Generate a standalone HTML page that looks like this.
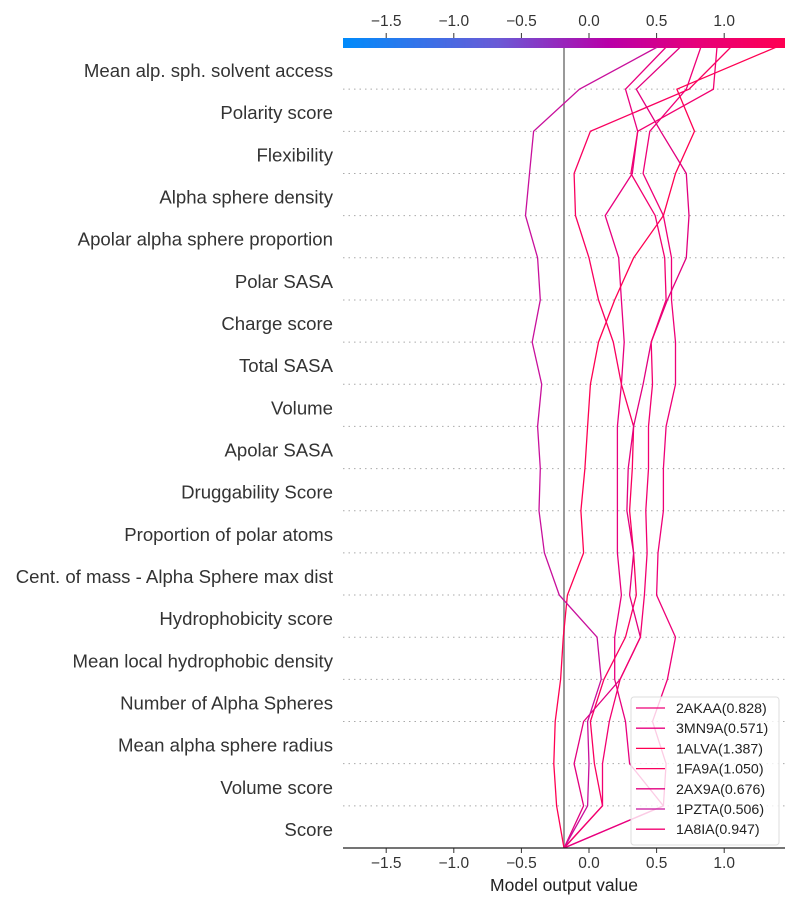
<!DOCTYPE html>
<html><head><meta charset="utf-8"><style>
body{margin:0;background:#fff;width:800px;height:910px;overflow:hidden;font-family:"Liberation Sans","Noto Sans CJK JP",sans-serif}
svg text{font-family:"Liberation Sans","Noto Sans CJK JP",sans-serif}
</style></head><body>
<svg id="chart" width="800" height="910" xmlns="http://www.w3.org/2000/svg">
<defs><linearGradient id="cb" x1="0" x2="1" y1="0" y2="0">
<stop offset="0" stop-color="#008bfb"/><stop offset="0.35" stop-color="#6a5ad6"/><stop offset="0.6" stop-color="#b800a8"/><stop offset="0.8" stop-color="#e6007a"/><stop offset="1" stop-color="#ff0052"/></linearGradient></defs>
<g id="grid"></g><g id="labels"></g>
<rect x="343" y="38" width="442" height="10" fill="url(#cb)"/>
<g id="topticks"></g><g id="bottomticks"></g>
<line x1="564" y1="48" x2="564" y2="848" stroke="#999" stroke-width="2"/>
<g id="lines"></g>
<line x1="343" y1="848" x2="785" y2="848" stroke="#222" stroke-width="1.2"/>
<text x="564" y="891" text-anchor="middle" font-size="17.5" fill="#222">Model output value</text>
<g id="legend"></g>
</svg>
<script>
const features=["Mean alp. sph. solvent access","Polarity score","Flexibility","Alpha sphere density","Apolar alpha sphere proportion","Polar SASA","Charge score","Total SASA","Volume","Apolar SASA","Druggability Score","Proportion of polar atoms","Cent. of mass - Alpha Sphere max dist","Hydrophobicity score","Mean local hydrophobic density","Number of Alpha Spheres","Mean alpha sphere radius","Volume score","Score"];
const ticks=[-1.5,-1.0,-0.5,0.0,0.5,1.0];
const tickLabels=["\u22121.5","\u22121.0","\u22120.5","0.0","0.5","1.0"];
const seriesNames=["2AKAA(0.828)","3MN9A(0.571)","1ALVA(1.387)","1FA9A(1.050)","2AX9A(0.676)","1PZTA(0.506)","1A8IA(0.947)"];
const s2AKAA=[-0.185,0.55,0.57,0.47,0.58,0.64,0.50,0.51,0.55,0.55,0.57,0.64,0.64,0.61,0.61,0.55,0.40,0.45,0.72,0.828];
const s3MN9A=[-0.185,0.55,0.30,0.27,0.19,0.19,0.24,0.21,0.21,0.21,0.21,0.24,0.26,0.24,0.22,0.12,0.32,0.36,0.27,0.571];
const s1ALVA=[-0.185,-0.24,-0.26,-0.25,-0.21,-0.19,-0.16,-0.04,-0.06,-0.03,-0.01,0.01,0.07,0.19,0.33,0.55,0.64,0.78,0.65,1.387];
const s1FA9A=[-0.185,0.10,0.04,0.01,0.11,0.27,0.35,0.33,0.30,0.32,0.33,0.24,0.18,0.07,0.0,-0.10,-0.11,0.01,0.74,1.050];
const s2AX9A=[-0.185,-0.04,-0.11,-0.04,0.23,0.38,0.30,0.33,0.28,0.29,0.33,0.40,0.46,0.58,0.72,0.74,0.72,0.53,0.35,0.676];
const s1PZTA=[-0.185,-0.01,0.0,-0.01,0.09,0.06,-0.22,-0.33,-0.37,-0.36,-0.38,-0.35,-0.42,-0.36,-0.38,-0.47,-0.44,-0.41,-0.07,0.506];
const s1A8IA=[-0.185,0.10,0.10,0.15,0.23,0.38,0.41,0.43,0.42,0.44,0.44,0.47,0.46,0.57,0.56,0.49,0.31,0.36,0.92,0.947];
const allSeries=[s2AKAA,s3MN9A,s1ALVA,s1FA9A,s2AX9A,s1PZTA,s1A8IA];
const colors=["#ee0078","#e8007f","#ff0052","#f9005f","#e2007f","#c8109c","#f20070"];
const NS="http://www.w3.org/2000/svg";
function xs(v){return 589+v*135.2;}
const rowH=(848-47)/19;
function yb(i){return 848-i*rowH;}
function mk(t,a,p){const e=document.createElementNS(NS,t);for(const k in a)e.setAttribute(k,a[k]);p.appendChild(e);return e;}
const grid=document.getElementById('grid'),labels=document.getElementById('labels');
features.forEach((f,i)=>{
 const yc=47+rowH*(i+0.5);
 const t=mk('text',{x:333,y:yc+9,'text-anchor':'end','font-size':18.6,fill:'#333'},labels);
 
 
 t.textContent=f;
 if(i<features.length-1){
  const l=mk('line',{x1:343,x2:785,y1:47+rowH*(i+1),y2:47+rowH*(i+1),stroke:'#aaa','stroke-dasharray':'1.5,4','stroke-width':1},grid);
  
  
 }
});
const tt=document.getElementById('topticks'),bt=document.getElementById('bottomticks');
ticks.forEach((v,i)=>{
 const x=xs(v);
 const a=mk('text',{x:x,y:26,'text-anchor':'middle','font-size':15.5,fill:'#333'},tt);
 
 
 a.textContent=tickLabels[i];
 mk('line',{x1:x,x2:x,y1:33,y2:38,stroke:'#333'},tt);
 const b=mk('text',{x:x,y:868,'text-anchor':'middle','font-size':15.5,fill:'#333'},bt);
 
 
 b.textContent=tickLabels[i];
 mk('line',{x1:x,x2:x,y1:848,y2:853,stroke:'#333'},bt);
});
const lg=document.getElementById('lines');
allSeries.forEach((s,k)=>{
 const pts=s.map((v,i)=>xs(v).toFixed(1)+','+yb(i).toFixed(1)).join(' ');
 const p=mk('polyline',{points:pts,fill:'none',stroke:colors[k],'stroke-width':1.3},lg);
 
 
});
const leg=document.getElementById('legend');
const box=mk('rect',{x:631,y:697,width:148,height:148,rx:3,fill:'rgba(255,255,255,0.8)',stroke:'#ddd'},leg);


seriesNames.forEach((n,k)=>{
 const y=708+k*20.2;
 mk('line',{x1:636,x2:665,y1:y,y2:y,stroke:colors[k],'stroke-width':1.3},leg);
 const t=mk('text',{x:676,y:y+5,'font-size':14.2,fill:'#222'},leg);
 
 
 t.textContent=n;
});
</script>
</body></html>
